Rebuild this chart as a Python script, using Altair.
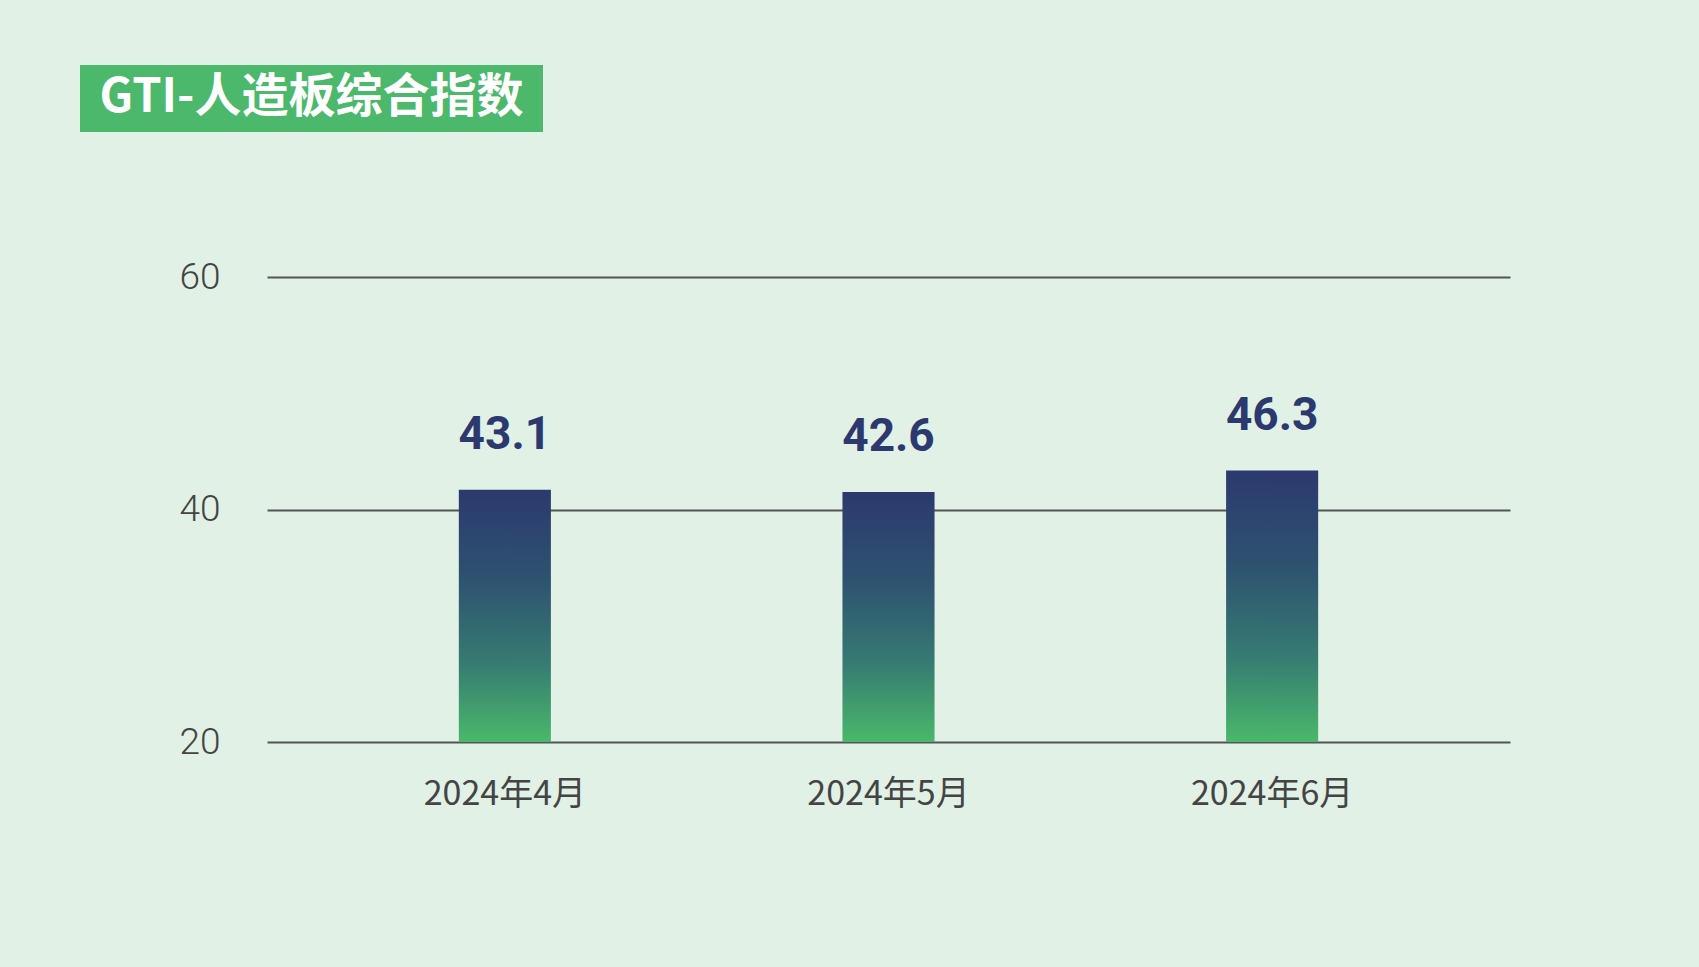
import altair as alt
import pandas as pd

categories = ["2024年4月", "2024年5月", "2024年6月"]
label_values = ["43.1", "42.6", "46.3"]
bar_heights = [41.7, 41.5, 43.35]
y_ticks = [20, 40, 60]
title_text = "GTI-人造板综合指数"

df = pd.DataFrame({"month": categories, "height": bar_heights, "label": label_values})

PL, PT, PR, PB = 267, 277, 189, 225
W, H = 1699 - PL - PR, 967 - PT - PB
Y_MIN = 20

x = alt.X("month:N", sort=categories, title=None,
          scale=alt.Scale(paddingInner=0.76, paddingOuter=0.5),
          axis=alt.Axis(labelAngle=0, domain=False, ticks=False, labelFontSize=34,
                        labelFont="Noto Sans CJK SC", labelColor="#444444",
                        labelPadding=52, labelBaseline="middle"))
y = alt.Y("height:Q", title=None,
          scale=alt.Scale(domain=[20, 60], nice=False, zero=False),
          axis=alt.Axis(values=y_ticks, domain=False, ticks=False, grid=True,
                        gridColor="#555555", gridWidth=2, gridOpacity=1,
                        labelFont="Roboto", labelFontWeight=300,
                        labelFontSize=37, labelColor="#444444", labelPadding=47))

grad = alt.Gradient(gradient="linear", x1=0, x2=0, y1=0, y2=1, stops=[
    alt.GradientStop(color="#2c396e", offset=0),
    alt.GradientStop(color="#2e5270", offset=0.35),
    alt.GradientStop(color="#367a72", offset=0.68),
    alt.GradientStop(color="#4ab86a", offset=1),
])

base = alt.Chart(df)
bars = base.mark_bar(color=grad).encode(x=x, y=y, y2=alt.datum(Y_MIN))
labels = base.mark_text(baseline="alphabetic", dy=-41, fontSize=46, fontWeight="bold",
                        font="Roboto", color="#2c396e").encode(x=x, y=y, text="label:N")

tdf = pd.DataFrame({"t": [title_text]})
title_box = alt.Chart(tdf).mark_rect(color="#4cb86b").encode(
    x=alt.value(80 - PL), x2=alt.value(543 - PL),
    y=alt.value(65 - PT), y2=alt.value(132 - PT))
title_lbl = alt.Chart(tdf).mark_text(font="Noto Sans CJK SC", fontWeight="bold", fontSize=47,
                                     color="white", align="center", baseline="middle").encode(
    x=alt.value((80 + 543) / 2 - PL), y=alt.value(98 - PT), text="t:N")

chart = alt.layer(bars, labels, title_box, title_lbl).properties(
    width=W, height=H, background="#e1f1e6",
    padding={"left": PL, "top": PT, "right": PR, "bottom": PB},
    autosize=alt.AutoSizeParams(type="none"),
).configure_view(stroke=None)

chart.save("out.html", embed_options={"renderer": "svg", "actions": False})
